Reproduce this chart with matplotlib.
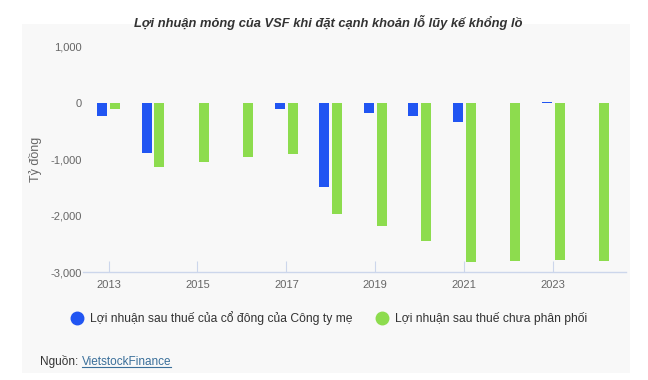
import matplotlib
matplotlib.use("Agg")
import matplotlib.pyplot as plt
import numpy as np
from matplotlib.patches import Rectangle
from matplotlib.lines import Line2D

years = [2013, 2014, 2015, 2016, 2017, 2018, 2019, 2020, 2021, 2022, 2023, 2024]
loi_nhuan_cty_me = [-225, -880, 0, 0, -110, -1480, -175, -225, -335, 0, 20, 0]
loi_nhuan_chua_pp = [-110, -1130, -1045, -955, -905, -1960, -2190, -2440, -2815, -2800, -2780, -2800]
xtick_years = [2013, 2015, 2017, 2019, 2021, 2023]
ytick_values = [1000, 0, -1000, -2000, -3000]

title = "Lợi nhuận mỏng của VSF khi đặt cạnh khoản lỗ lũy kế khổng lồ"
series_names = ["Lợi nhuận sau thuế của cổ đông của Công ty mẹ",
                "Lợi nhuận sau thuế chưa phân phối"]
colors = ["#2155f2", "#8ddc4e"]

plt.rcParams['font.family'] = ['Liberation Sans', 'DejaVu Sans']

W, H = 648, 380
fig = plt.figure(figsize=(W / 100, H / 100), dpi=100)
fig.patch.set_facecolor("white")

# light grey panel behind everything
panel = Rectangle((22 / W, 1 - 373 / H), (630 - 22) / W, (373 - 24) / H,
                  transform=fig.transFigure, facecolor="#f8f8f8",
                  edgecolor="none", zorder=-10)
fig.patches.append(panel)

ax = fig.add_axes([83 / W, 1 - 272 / H, (626 - 83) / W, (272 - 47) / H])
ax.set_facecolor("none")

x = np.arange(len(years))
bw = 0.225
ax.bar(x - 0.145, loi_nhuan_cty_me, width=bw, color=colors[0], zorder=3)
ax.bar(x + 0.145, loi_nhuan_chua_pp, width=bw, color=colors[1], zorder=3)

ax.set_xlim(-0.574, 11.64)
ax.set_ylim(-3000, 1000)

ax.set_yticks(ytick_values)
ax.set_yticklabels([f"{v:,}" for v in ytick_values])
ax.set_xticks([years.index(y) for y in xtick_years])
ax.set_xticklabels([str(y) for y in xtick_years])

for s in ["top", "right", "left"]:
    ax.spines[s].set_visible(False)
ax.spines["bottom"].set_color("#ccd6eb")
ax.spines["bottom"].set_linewidth(1)

ax.tick_params(axis="y", length=0, labelsize=8, labelcolor="#666666", pad=1)
ax.tick_params(axis="x", direction="in", length=8, color="#ccd6eb",
               labelsize=8, labelcolor="#666666", pad=6)

ax.set_ylabel("Tỷ đồng", fontsize=9, color="#666666", labelpad=6)

fig.text(0.507, 1 - 22 / H, title, ha="center", va="center",
         fontsize=9.3, fontweight="bold", fontstyle="italic", color="#333333")

handles = [Line2D([], [], marker="o", linestyle="none", markersize=9,
                  markerfacecolor=c, markeredgecolor=c) for c in colors]
fig.legend(handles, series_names, loc="center", ncol=2, frameon=False,
           bbox_to_anchor=(0.503, 1 - 318 / H), fontsize=8.7,
           handletextpad=0.1, columnspacing=1.45, labelcolor="#333333")

src = fig.text(40 / W, 1 - 362 / H, "Nguồn: ", ha="left", va="center",
               fontsize=8.5, color="#333333")
fig.canvas.draw()
bb = src.get_window_extent().transformed(fig.transFigure.inverted())
link = fig.text(bb.x1, 1 - 362 / H, "VietstockFinance", ha="left", va="center",
                fontsize=8.5, color="#3a6f9a")
fig.canvas.draw()
lb = link.get_window_extent().transformed(fig.transFigure.inverted())
fig.lines.append(Line2D([lb.x0, lb.x1], [lb.y0 + 0.002, lb.y0 + 0.002],
                        transform=fig.transFigure, color="#3a6f9a", linewidth=0.8))

fig.savefig("out.png", dpi=100)
